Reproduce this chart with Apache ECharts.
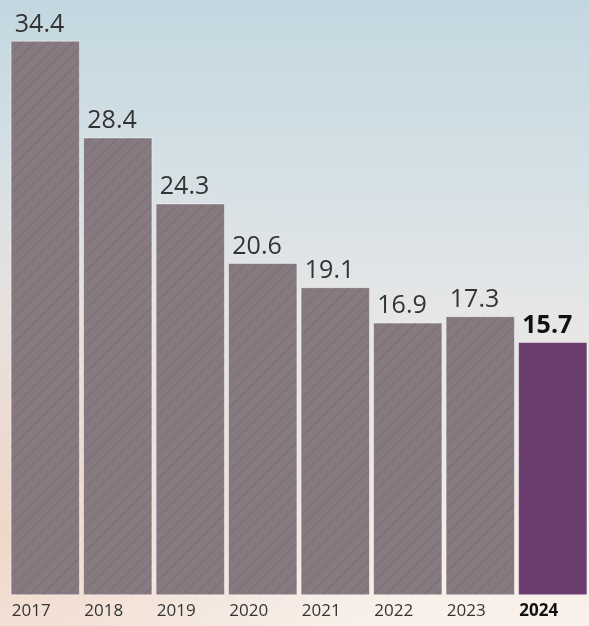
<!DOCTYPE html>
<html>
<head>
<meta charset="utf-8">
<script src="https://cdn.jsdelivr.net/npm/echarts@6/dist/echarts.min.js"></script>
<style>html,body{margin:0;padding:0;}#c{width:589px;height:626px;}</style>
</head>
<body>
<div id="c"></div>
<script>
const years = ['2017','2018','2019','2020','2021','2022','2023','2024'];
const values = [34.4, 28.4, 24.3, 20.6, 19.1, 16.9, 17.3, 15.7];
const highlightIndex = 7;

const chart = echarts.init(document.getElementById('c'));
const hatch = {
  symbol: 'rect', symbolSize: 1, dashArrayX: [1, 0], dashArrayY: [1, 8],
  rotation: -Math.PI / 4, color: 'rgba(60,48,56,0.16)'
};
const data = values.map((v, i) => {
  const hi = i === highlightIndex;
  return {
    value: v,
    itemStyle: hi ? { color: '#6a3d6e', decal: { symbol: 'none' } } : { color: '#877980', decal: hatch },
    label: hi ? { fontWeight: 'bold', color: '#111' } : {}
  };
});
chart.setOption({
  backgroundColor: new echarts.graphic.LinearGradient(0, 0, 0, 1, [
    { offset: 0, color: '#c3d7e0' },
    { offset: 0.3, color: '#d6e1e6' },
    { offset: 0.5, color: '#e6e6e6' },
    { offset: 0.75, color: '#eee8e5' },
    { offset: 1, color: '#faf2ea' }
  ]),
  graphic: [{
    type: 'rect', silent: true, z: -1,
    shape: { x: 0, y: 0, width: 589, height: 626 },
    style: {
      fill: new echarts.graphic.RadialGradient(0, 0.85, 0.75, [
        { offset: 0, color: 'rgba(238,200,180,0.6)' },
        { offset: 0.5, color: 'rgba(235,210,200,0.3)' },
        { offset: 1, color: 'rgba(235,225,225,0)' }
      ])
    }
  }],
  aria: { enabled: true, decal: { show: true } },
  grid: { left: 9, right: 0, top: 41, bottom: 31 },
  xAxis: {
    type: 'category', data: years,
    axisLine: { show: false }, axisTick: { show: false },
    axisLabel: {
      margin: 8, interval: 0,
      formatter: (v) => (v === years[highlightIndex] ? '{b|' + v + '}' : '{a|' + v + '}'),
      rich: {
        a: { width: 67, align: 'left', fontSize: 17, color: '#333', fontFamily: 'Open Sans' },
        b: { width: 67, align: 'left', fontSize: 17, color: '#111', fontWeight: 'bold', fontFamily: 'Open Sans' }
      }
    }
  },
  yAxis: { type: 'value', min: 0, max: 34.4, show: false, splitLine: { show: false } },
  series: [{
    type: 'bar', data: data, barCategoryGap: '5%',
    itemStyle: { borderColor: 'rgba(255,255,255,0.5)', borderWidth: 0.5 },
    label: {
      show: true, position: [4, -4], align: 'left', verticalAlign: 'bottom',
      fontSize: 25, color: '#333', fontFamily: 'Open Sans',
      formatter: (p) => p.value.toFixed(1)
    },
    animation: false
  }]
});
</script>
</body>
</html>
